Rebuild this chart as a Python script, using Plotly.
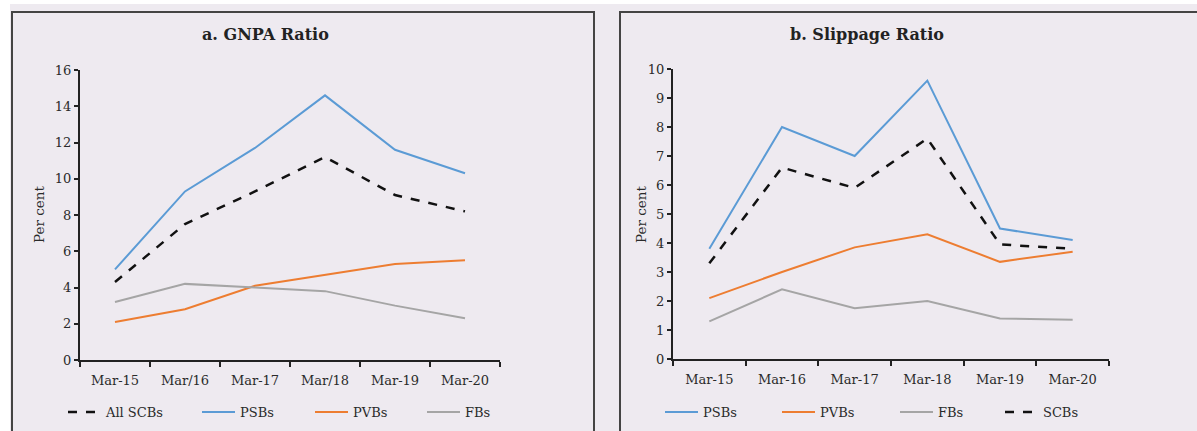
import plotly.graph_objects as go

W, H = 1197, 431

categories_a = ["Mar-15", "Mar/16", "Mar-17", "Mar/18", "Mar-19", "Mar-20"]
gnpa_all_scbs = [4.3, 7.5, 9.3, 11.2, 9.1, 8.2]
gnpa_psbs = [5.0, 9.3, 11.7, 14.6, 11.6, 10.3]
gnpa_pvbs = [2.1, 2.8, 4.1, 4.7, 5.3, 5.5]
gnpa_fbs = [3.2, 4.2, 4.0, 3.8, 3.0, 2.3]

categories_b = ["Mar-15", "Mar-16", "Mar-17", "Mar-18", "Mar-19", "Mar-20"]
slip_psbs = [3.8, 8.0, 7.0, 9.6, 4.5, 4.1]
slip_pvbs = [2.1, 3.0, 3.85, 4.3, 3.35, 3.7]
slip_fbs = [1.3, 2.4, 1.75, 2.0, 1.4, 1.35]
slip_scbs = [3.3, 6.6, 5.9, 7.6, 3.95, 3.8]

BLUE = "#5B9BD5"
ORANGE = "#ED7D31"
GRAY = "#A5A5A5"
BLACK = "#111111"
BG = "#EEEAF0"
FONT = "DejaVu Serif"
TXT = "#2a2a2a"

def px(x):
    return x / W

def py(y):
    return 1 - y / H

fig = go.Figure()

# (name, x, y, color, dash, xaxis, yaxis, legend line start px)
series = [
    ("All SCBs", categories_a, gnpa_all_scbs, BLACK, "dash", "x", "y", 68),
    ("PSBs", categories_a, gnpa_psbs, BLUE, "solid", "x", "y", 202),
    ("PVBs", categories_a, gnpa_pvbs, ORANGE, "solid", "x", "y", 315),
    ("FBs", categories_a, gnpa_fbs, GRAY, "solid", "x", "y", 427),
    ("PSBs", categories_b, slip_psbs, BLUE, "solid", "x2", "y2", 665),
    ("PVBs", categories_b, slip_pvbs, ORANGE, "solid", "x2", "y2", 782),
    ("FBs", categories_b, slip_fbs, GRAY, "solid", "x2", "y2", 900),
    ("SCBs", categories_b, slip_scbs, BLACK, "dash", "x2", "y2", 1005),
]

legends = {}
for i, (name, xs, ys, color, dash, xa, ya, lx) in enumerate(series):
    lname = "legend" if i == 0 else f"legend{i + 1}"
    fig.add_trace(go.Scatter(x=xs, y=ys, name=name, mode="lines",
                             line=dict(color=color, width=2.5 if dash == "dash" else 2, dash=dash),
                             xaxis=xa, yaxis=ya, legend=lname))
    legends[lname] = dict(orientation="h", x=px(lx - 5), y=py(412), xanchor="left", yanchor="middle",
                          bgcolor="rgba(0,0,0,0)", font=dict(family=FONT, size=13, color=TXT), itemwidth=33)

axis_common = dict(showline=True, linecolor="#222222", linewidth=2, ticks="outside",
                   tickcolor="#222222", tickwidth=1.5, showgrid=False, zeroline=False,
                   tickfont=dict(family=FONT, size=13, color=TXT))

fig.update_layout(
    width=W, height=H,
    margin=dict(l=0, r=0, t=0, b=0, autoexpand=False),
    paper_bgcolor=BG, plot_bgcolor=BG,
    showlegend=True,
    xaxis=dict(domain=[px(80), px(500)], type="category", tickson="boundaries",
               range=[-0.5, 5.5], anchor="y", ticklen=5, ticklabelstandoff=7, **axis_common),
    yaxis=dict(domain=[py(360), py(70)], range=[0, 16], dtick=2, anchor="x", ticklen=4, **axis_common),
    xaxis2=dict(domain=[px(673), px(1109)], type="category", tickson="boundaries",
                range=[-0.5, 5.5], anchor="y2", ticklen=5, ticklabelstandoff=7, **axis_common),
    yaxis2=dict(domain=[py(359), py(69)], range=[0, 10], dtick=1, anchor="x2", ticklen=4, **axis_common),
    **legends,
)

shapes = [
    dict(type="rect", xref="paper", yref="paper", x0=-0.1, x1=px(10), y0=-0.1, y1=1.1,
         fillcolor="white", line=dict(width=0), layer="below"),
    dict(type="rect", xref="paper", yref="paper", x0=-0.1, x1=1.1, y0=py(4), y1=1.1,
         fillcolor="white", line=dict(width=0), layer="below"),
    dict(type="rect", xref="paper", yref="paper", x0=px(12), x1=px(594), y0=py(445), y1=py(12),
         fillcolor="rgba(0,0,0,0)", line=dict(color="#444444", width=2), layer="below"),
    dict(type="rect", xref="paper", yref="paper", x0=px(620), x1=px(1215), y0=py(445), y1=py(12),
         fillcolor="rgba(0,0,0,0)", line=dict(color="#444444", width=2), layer="below"),
]
fig.update_layout(shapes=shapes)

annotations = [
    dict(text="<b>a. GNPA Ratio</b>", x=px(265), y=py(35), xref="paper", yref="paper",
         showarrow=False, font=dict(family=FONT, size=16, color="#222222"), xanchor="center", yanchor="middle"),
    dict(text="<b>b. Slippage Ratio</b>", x=px(867), y=py(35), xref="paper", yref="paper",
         showarrow=False, font=dict(family=FONT, size=16, color="#222222"), xanchor="center", yanchor="middle"),
    dict(text="Per cent", x=px(39), y=py(215), xref="paper", yref="paper", textangle=-90,
         showarrow=False, font=dict(family=FONT, size=13.5, color=TXT), xanchor="center", yanchor="middle"),
    dict(text="Per cent", x=px(641), y=py(215), xref="paper", yref="paper", textangle=-90,
         showarrow=False, font=dict(family=FONT, size=13.5, color=TXT), xanchor="center", yanchor="middle"),
]
fig.update_layout(annotations=annotations)

fig.write_html("out.html", config={"displayModeBar": False},
               post_script="document.body.style.margin='0';document.body.style.overflow='hidden';")
